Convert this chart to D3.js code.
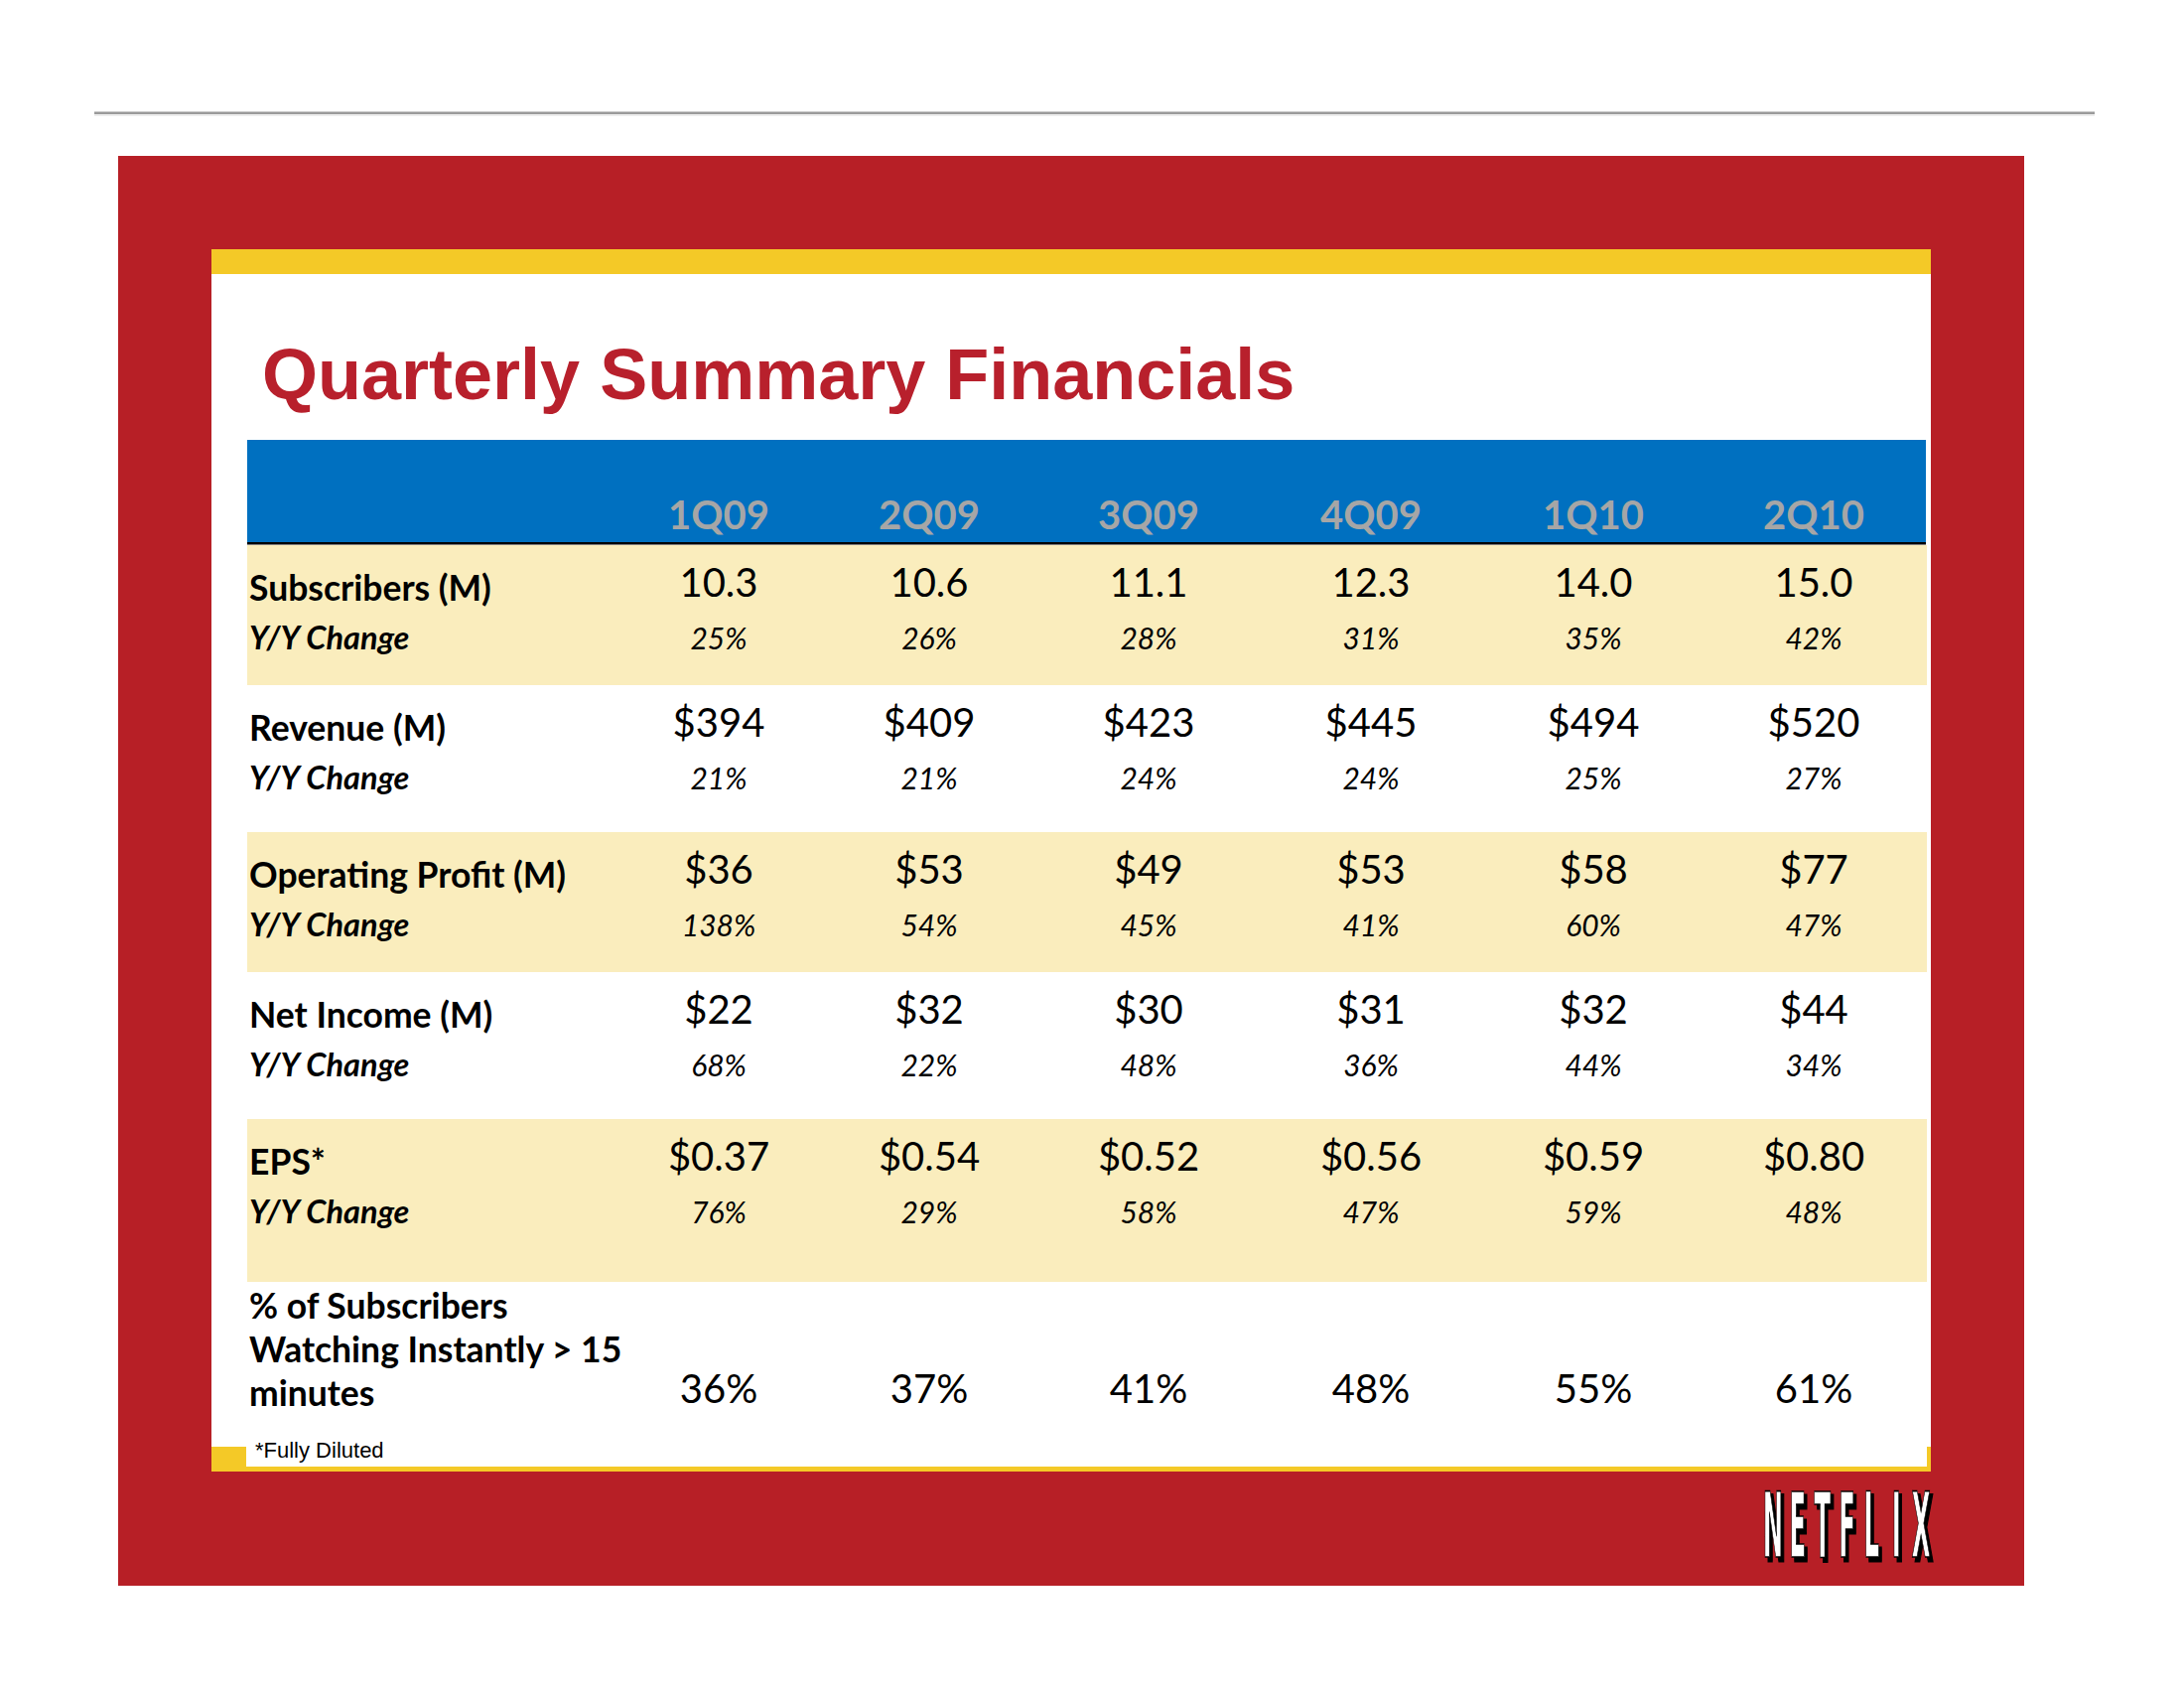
<!DOCTYPE html>
<html>
<head>
<meta charset="utf-8">
<script src="https://cdn.jsdelivr.net/npm/d3@7"></script>
<style>
  html, body { margin: 0; padding: 0; background: #ffffff; }
  svg { display: block; }
</style>
</head>
<body>
<script>
// ---------- DATA ----------
const quarters = ["1Q09", "2Q09", "3Q09", "4Q09", "1Q10", "2Q10"];
const subscribers = [10.3, 10.6, 11.1, 12.3, 14.0, 15.0];
const subscribersYY = [25, 26, 28, 31, 35, 42];
const revenue = [394, 409, 423, 445, 494, 520];
const revenueYY = [21, 21, 24, 24, 25, 27];
const operatingProfit = [36, 53, 49, 53, 58, 77];
const operatingProfitYY = [138, 54, 45, 41, 60, 47];
const netIncome = [22, 32, 30, 31, 32, 44];
const netIncomeYY = [68, 22, 48, 36, 44, 34];
const eps = [0.37, 0.54, 0.52, 0.56, 0.59, 0.80];
const epsYY = [76, 29, 58, 47, 59, 48];
const instantPct = [36, 37, 41, 48, 55, 61];
const rowLabels = ["Subscribers (M)", "Revenue (M)", "Operating Profit (M)", "Net Income (M)", "EPS*"];
const changeLabel = "Y/Y Change";
const instantLabelLines = ["% of Subscribers", "Watching Instantly > 15", "minutes"];
const titleText = "Quarterly Summary Financials";
const footnote = "*Fully Diluted";
const logoText = "NETFLIX";

// ---------- STYLE / LAYOUT ----------
const W = 2200, H = 1700;
const RED = "#B71F26", GOLD = "#F4C927", BLUE = "#0070C0", CREAM = "#FAEDBD", HDR = "#A6A6A6";
const LABEL_FONT = "Lato, 'Open Sans', sans-serif";

const fmtSubs = d3.format(".1f");
const fmtMoney = d3.format("$,.0f");
const fmtEps = d3.format("$.2f");
const fmtPct = d => d + "%";

const rowsData = [
  { label: rowLabels[0], values: subscribers, fmt: fmtSubs, yy: subscribersYY },
  { label: rowLabels[1], values: revenue, fmt: fmtMoney, yy: revenueYY },
  { label: rowLabels[2], values: operatingProfit, fmt: fmtMoney, yy: operatingProfitYY },
  { label: rowLabels[3], values: netIncome, fmt: fmtMoney, yy: netIncomeYY },
  { label: rowLabels[4], values: eps, fmt: fmtEps, yy: epsYY }
];
// band layout (top/bottom in px) and fill per row
const bandLayout = [
  { top: 549, bottom: 690, fill: CREAM },
  { top: 690, bottom: 838, fill: "#ffffff" },
  { top: 838, bottom: 979, fill: CREAM },
  { top: 979, bottom: 1127, fill: "#ffffff" },
  { top: 1127, bottom: 1291, fill: CREAM }
];

const x = d3.scaleOrdinal().domain(quarters).range([724, 936, 1157, 1381, 1605, 1827]);

const svg = d3.select("body").append("svg")
  .attr("width", W).attr("height", H)
  .attr("viewBox", `0 0 ${W} ${H}`);

svg.append("rect").attr("width", W).attr("height", H).attr("fill", "#ffffff");

// top rule
svg.append("rect").attr("x", 95).attr("y", 112.5).attr("width", 2015).attr("height", 2.5).attr("fill", "#9a9a9a");
svg.append("rect").attr("x", 95).attr("y", 115).attr("width", 2015).attr("height", 2).attr("fill", "#ededed");

// red frame
svg.append("rect").attr("x", 119).attr("y", 157).attr("width", 2039 - 119).attr("height", 1597 - 157).attr("fill", RED);
// gold top bar
svg.append("rect").attr("x", 213).attr("y", 251).attr("width", 1945 - 213).attr("height", 276 - 251).attr("fill", GOLD);
// white panel
svg.append("rect").attr("x", 213).attr("y", 276).attr("width", 1945 - 213).attr("height", 1457 - 276).attr("fill", "#ffffff");
// gold bottom strip
svg.append("rect").attr("x", 213).attr("y", 1457).attr("width", 1945 - 213).attr("height", 1482 - 1457).attr("fill", GOLD);
svg.append("rect").attr("x", 248).attr("y", 1440).attr("width", 1941 - 248).attr("height", 1477 - 1440).attr("fill", "#ffffff");

// title
svg.append("text")
  .attr("x", 264).attr("y", 402)
  .attr("font-family", "'Liberation Sans', Arial, sans-serif")
  .attr("font-weight", "bold").attr("font-size", 72)
  .attr("fill", "#B8202C")
  .text(titleText);

// blue header
svg.append("rect").attr("x", 249).attr("y", 443).attr("width", 1940 - 249).attr("height", 547 - 443).attr("fill", BLUE);

// row bands
svg.selectAll("rect.band").data(bandLayout).join("rect")
  .attr("class", "band")
  .attr("x", 249).attr("y", d => d.top)
  .attr("width", 1941 - 249).attr("height", d => d.bottom - d.top)
  .attr("fill", d => d.fill);

// header rule
svg.append("rect").attr("x", 249).attr("y", 546).attr("width", 1940 - 249).attr("height", 2.5).attr("fill", "#000");

// header labels
svg.selectAll("text.hdr").data(quarters).join("text")
  .attr("class", "hdr")
  .attr("x", d => x(d)).attr("y", 533)
  .attr("text-anchor", "middle")
  .attr("font-family", LABEL_FONT).attr("font-weight", "bold").attr("font-size", 40)
  .attr("fill", HDR)
  .text(d => d);

// rows
const rowG = svg.selectAll("g.row").data(rowsData).join("g").attr("class", "row")
  .attr("transform", (d, i) => `translate(0,${bandLayout[i].top})`);

rowG.append("text")
  .attr("x", 251).attr("y", 56)
  .attr("font-family", LABEL_FONT).attr("font-weight", "bold").attr("font-size", 35.5)
  .attr("fill", "#000")
  .text(d => d.label);

rowG.append("text")
  .attr("x", 251).attr("y", 105)
  .attr("font-family", LABEL_FONT).attr("font-weight", "bold").attr("font-style", "italic").attr("font-size", 32.5)
  .attr("fill", "#000")
  .text(changeLabel);

rowG.each(function (row) {
  const g = d3.select(this);
  g.selectAll("text.val").data(row.values).join("text")
    .attr("class", "val")
    .attr("x", (d, j) => x(quarters[j])).attr("y", 52)
    .attr("text-anchor", "middle")
    .attr("font-family", LABEL_FONT).attr("font-size", 40)
    .attr("fill", "#000")
    .text(d => row.fmt(d));
  g.selectAll("text.yy").data(row.yy).join("text")
    .attr("class", "yy")
    .attr("x", (d, j) => x(quarters[j])).attr("y", 105)
    .attr("text-anchor", "middle")
    .attr("font-family", LABEL_FONT).attr("font-style", "italic").attr("font-size", 30)
    .attr("fill", "#000")
    .text(d => fmtPct(d));
});

// % watching instantly
svg.selectAll("text.instLabel").data(instantLabelLines).join("text")
  .attr("class", "instLabel")
  .attr("x", 251).attr("y", (d, i) => 1328 + i * 44)
  .attr("font-family", LABEL_FONT).attr("font-weight", "bold").attr("font-size", 35.5)
  .attr("fill", "#000")
  .text(d => d);

svg.selectAll("text.inst").data(instantPct).join("text")
  .attr("class", "inst")
  .attr("x", (d, j) => x(quarters[j])).attr("y", 1413)
  .attr("text-anchor", "middle")
  .attr("font-family", LABEL_FONT).attr("font-size", 40)
  .attr("fill", "#000")
  .text(d => fmtPct(d));

// footnote
svg.append("text")
  .attr("x", 257).attr("y", 1468)
  .attr("font-family", "'Liberation Sans', Arial, sans-serif").attr("font-size", 22)
  .attr("fill", "#000")
  .text(footnote);

// Netflix logo: one letter at a time, condensed, with drop shadow
const logoLetters = logoText.split("");
const lx = d3.scalePoint().domain(d3.range(logoLetters.length)).range([1786, 1935]);
const logo = svg.append("g");
[{ dx: 3, dy: 4, fill: "#000", sw: 3 }, { dx: 0, dy: 0, fill: "#fff", sw: 1.6 }].forEach(layer => {
  logo.append("g").selectAll("text").data(logoLetters).join("text")
    .attr("x", (d, i) => lx(i) + layer.dx).attr("y", 1568 + layer.dy)
    .attr("text-anchor", "middle")
    .attr("font-family", "'DejaVu Sans Condensed', 'DejaVu Sans', sans-serif").attr("font-weight", "bold")
    .attr("font-size", 90)
    .attr("transform", (d, i) => `translate(${(lx(i) + layer.dx) * (1 - 0.3)},0) scale(0.3,1)`)
    .attr("fill", layer.fill).attr("stroke", "#000").attr("stroke-width", layer.sw)
    .text(d => d);
});
</script>
</body>
</html>
